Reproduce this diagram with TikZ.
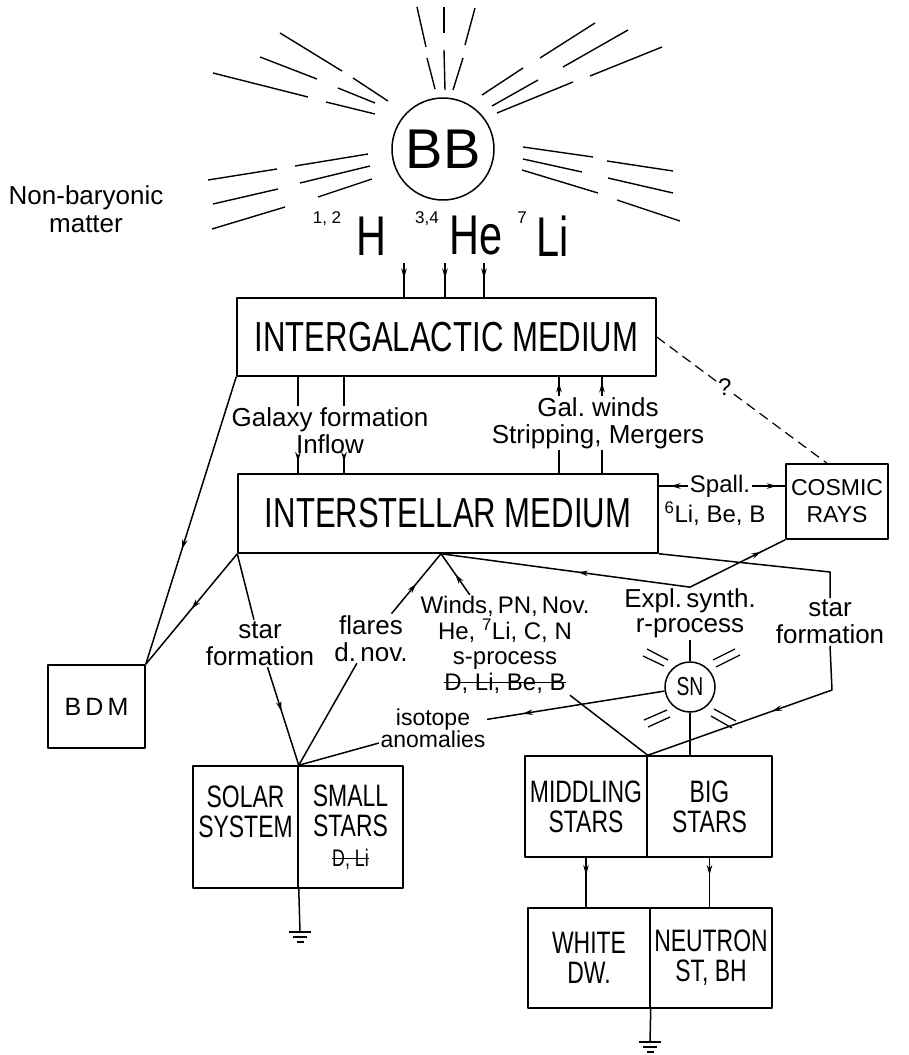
\documentclass[tikz,border=0pt]{standalone}
\usepackage{fontspec}
\setmainfont{Liberation Sans}
\newfontfamily\capfont[FakeStretch=0.74]{Liberation Sans}
\usetikzlibrary{arrows.meta,decorations.markings}
\newcommand\struck[1]{{\setbox0=\hbox{#1}\leavevmode\rlap{\rule[0.3em]{\wd0}{1.2pt}}\box0}}

\begin{document}
\begin{tikzpicture}[x=1pt, y=-1pt, line width=1.5pt, line join=round,
    box/.style={draw, align=center, inner sep=0pt},
    bigcap/.style={font=\capfont\fontsize{42}{44}\selectfont},
    midcap/.style={font=\capfont\fontsize{31}{30}\selectfont},
    lbl/.style={align=center, inner sep=1pt, font=\fontsize{26}{27}\selectfont},
    sup/.style={inner sep=0pt, font=\fontsize{17}{17}\selectfont},
    marr/.style={postaction={decorate, decoration={markings, mark=at position #1 with {\arrow{Stealth[length=10pt,width=5.5pt]}}}}},
    marr/.default=0.5]
  \useasboundingbox (0,0) rectangle (909,1055);
  \node (BB) [draw, circle, minimum size=102pt, inner sep=0pt, font=\fontsize{56}{56}\selectfont] at (443,149) {BB};
  \foreach \xa/\ya/\xb/\yb in {417/7/426/47, 427/58/435/89, 444/7/444/33, 444/50/445/90, 475/8/465/45, 463/58/453/90,
      280/33/342/71, 353/78/388/101, 260/57/317/79, 338/88/375/103, 213/73/308/97, 326/102/375/114,
      595/23/540/58, 523/68/482/95, 628/30/563/67, 538/80/492/106, 662/47/590/76, 573/82/497/113,
      368/154/295/166, 277/169/208/180, 370/166/300/183, 278/189/213/204, 372/179/318/197, 285/207/212/229,
      523/147/593/157, 607/161/673/171, 523/159/582/172, 608/178/673/193, 522/170/598/193, 617/200/680/221}
    \draw [line width=1.4pt] (\xa,\ya) -- (\xb,\yb);
  \node (NB) [lbl, font=\fontsize{26}{28}\selectfont] at (86,209) {Non-baryonic\\matter};
  \node (H) [font=\capfont\fontsize{56}{56}\selectfont] at (371,236) {H};
  \node (He) [font=\capfont\fontsize{56}{56}\selectfont] at (476,236) {He};
  \node (Li) [inner sep=1pt, font=\capfont\fontsize{56}{56}\selectfont] at (553,236) {Li};
  \node (sH) [sup] at (327,219) {1, 2};
  \node (sHe) [sup] at (427,219) {3,4};
  \node (sLi) [sup] at (522,218) {7};

  \node (IGM) [box, bigcap, minimum width=419pt, minimum height=78pt] at (446.5,337) {INTERGALACTIC MEDIUM};
  \node (ISM) [box, bigcap, minimum width=420pt, minimum height=79pt] at (448,513.5) {INTERSTELLAR MEDIUM};
  \node (CR) [box, font=\fontsize{23}{27}\selectfont, minimum width=102pt, minimum height=75pt] at (837,501.5) {COSMIC\\RAYS};
  \node (BDM) [box, font=\fontsize{25}{25}\selectfont, minimum width=97pt, minimum height=83pt] at (96.5,706.5) {B\,D\,M};
  \node (SS) [box, midcap, minimum width=105pt, minimum height=122pt] at (245.5,827) {SOLAR\\SYSTEM\\\vphantom{D}};
  \node (SST) [box, midcap, minimum width=105pt, minimum height=122pt] at (350.5,827) {SMALL\\STARS\\{\fontsize{24}{30}\selectfont\struck{D, Li}}};
  \node (MS) [box, midcap, minimum width=122pt, minimum height=101pt] at (586,806.5) {MIDDLING\\STARS};
  \node (BS) [box, midcap, minimum width=125pt, minimum height=101pt] at (709.5,806.5) {BIG\\STARS};
  \node (WD) [box, midcap, minimum width=122pt, minimum height=100pt] at (589,958) {WHITE\\DW.};
  \node (NS) [box, midcap, minimum width=122pt, minimum height=100pt] at (711,958) {NEUTRON\\ST, BH};
  \node (SN) [draw, circle, minimum size=50pt, inner sep=0pt, font=\capfont\fontsize{26}{26}\selectfont] at (690,687) {SN};
  \foreach \xa/\ya/\xb/\yb in {643/656/664/666, 647/649/668/660, 716/667/740/655, 713/660/735/649,
      644/720/667/710, 648/727/670/717, 714/709/736/721, 711/716/732/728}
    \draw [line width=1.3pt] (\xa,\ya) -- (\xb,\yb);

  \node (gf) [lbl] at (330,431) {Galaxy formation\\Inflow};
  \node (gw) [lbl] at (598,423) {Gal.\ winds\\Stripping, Mergers};
  \node (sp) [lbl, font=\fontsize{24}{26}\selectfont] at (720,486) {Spall.};
  \node (lbb) [lbl, font=\fontsize{24}{26}\selectfont] at (715,514) {\textsuperscript{6}Li, Be, B};
  \node (sfl) [lbl] at (260,643.5) {star\\formation};
  \node (fl) [lbl] at (371,638.5) {flares\\d.\,nov.};
  \node (wi) [lbl, font=\fontsize{24}{25.5}\selectfont] at (505,645) {Winds,\,PN,\,Nov.\\He, \textsuperscript{7}Li, C, N\\s-process\\\struck{D, Li, Be, B}};
  \node (es) [lbl, font=\fontsize{26}{25}\selectfont] at (690,613.5) {Expl.\,synth.\\r-process};
  \node (sfr) [lbl] at (830,622) {star\\formation};
  \node (ia) [lbl, font=\fontsize{23}{21}\selectfont] at (433,728) {isotope\\anomalies};

  \coordinate (e1) at (404,263);
  \coordinate (e2) at (445,263);
  \coordinate (e3) at (484,263);
  \coordinate (ga) at (298,0);
  \coordinate (gb) at (344,0);
  \coordinate (wa) at (559,0);
  \coordinate (wb) at (602,0);
  \coordinate (p1) at ([xshift=-7pt]ISM.south);
  \coordinate (k1) at (830,572);
  \coordinate (k2) at (832,690);
  \coordinate (g1) at (300,932);
  \coordinate (g2) at (650,1042);

  \foreach \e in {e1,e2,e3}
    \draw [marr=0.45] (\e) -- (\e |- IGM.north);
  \foreach \g in {ga,gb} {
    \draw (\g |- IGM.south) -- (\g |- gf.north);
    \draw [marr=0.35] (\g |- gf.south) -- (\g |- ISM.north);
  }
  \foreach \g in {wa,wb} {
    \draw [marr=0.7] (\g |- gw.north) -- (\g |- IGM.south);
    \draw (\g |- ISM.north) -- (\g |- gw.south);
  }
  \draw [line width=1.2pt, dash pattern=on 10pt off 6pt] (IGM.east) -- node (q) [pos=0.4, fill=white, inner sep=1pt, font=\fontsize{24}{24}\selectfont] {?} ([xshift=-10pt]CR.north);
  \draw [marr=0.6] (sp.west) -- (sp.west -| ISM.east);
  \draw [marr=0.75] (sp.east) -- (sp.east -| CR.west);
  \draw [marr=0.6] (IGM.south west) -- (BDM.north east);
  \draw [marr=0.5] (ISM.south west) -- (BDM.north east);
  \draw (ISM.south west) -- (sfl);
  \draw [marr=0.45] (sfl) -- (SS.north east);
  \draw [marr=0.5] (fl) -- (p1);
  \draw (fl) -- (SS.north east);
  \draw [marr=0.5] (wi) -- (p1);
  \draw (wi) -- (MS.north east);
  \draw [marr=0.45] (es.north) -- (p1);
  \draw [marr=0.75] (es.north) -- (CR.south west);
  \draw (es) -- (SN);
  \draw (SN) -- (SN.south |- BS.north);
  \draw (ISM.south east) -- (k1) -- (sfr.north);
  \draw [marr=0.45] (sfr.south) -- (k2) -- (MS.north east);
  \draw [marr=0.8] (SN) -- (ia);
  \draw (ia) -- (SS.north east);
  \draw [marr=0.35] (MS.south) -- (MS.south |- WD.north);
  \draw [marr=0.35] (BS.south) -- (BS.south |- NS.north);
  \draw (SS.south east) -- (g1);
  \draw (WD.south east) -- (g2);
  \foreach \g in {g1,g2} {
    \draw ([xshift=-11pt]\g) -- ([xshift=11pt]\g);
    \draw ([xshift=-7pt,yshift=-5pt]\g) -- ([xshift=7pt,yshift=-5pt]\g);
    \draw ([xshift=-3.5pt,yshift=-10pt]\g) -- ([xshift=3.5pt,yshift=-10pt]\g);
  }
\end{tikzpicture}
\end{document}
